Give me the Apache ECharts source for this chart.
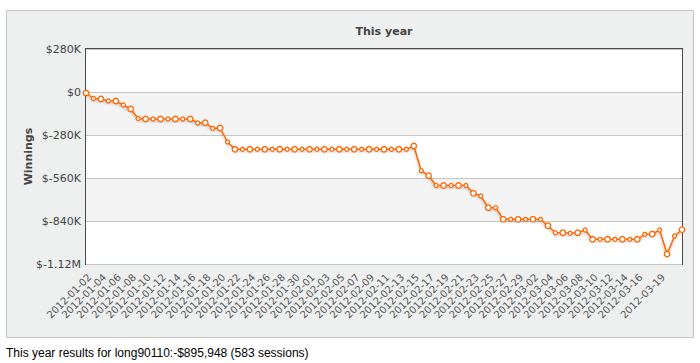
<!DOCTYPE html>
<html>
<head>
<meta charset="utf-8">
<script src="https://cdn.jsdelivr.net/npm/echarts@6/dist/echarts.min.js"></script>
<style>
  html, body { margin: 0; padding: 0; background: #ffffff; }
  #wrap { position: relative; width: 700px; height: 363px; }
  #chart { position: absolute; left: 0; top: 0; width: 700px; height: 363px; }
  #foot { position: absolute; left: 6px; top: 346px; font-family: "Liberation Sans", Arial, sans-serif; font-size: 12px; color: #000; white-space: nowrap; }
</style>
</head>
<body>
<div id="wrap">
  <div id="chart"></div>
  <div id="foot">This year results for long90110:-$895,948 (583 sessions)</div>
</div>
<script>
const chartTitle = "This year";
const yAxisName = "Winnings";
const dates = [
  "2012-01-02","2012-01-03","2012-01-04","2012-01-05","2012-01-06","2012-01-07","2012-01-08","2012-01-09","2012-01-10","2012-01-11",
  "2012-01-12","2012-01-13","2012-01-14","2012-01-15","2012-01-16","2012-01-17","2012-01-18","2012-01-19","2012-01-20","2012-01-21",
  "2012-01-22","2012-01-23","2012-01-24","2012-01-25","2012-01-26","2012-01-27","2012-01-28","2012-01-29","2012-01-30","2012-01-31",
  "2012-02-01","2012-02-02","2012-02-03","2012-02-04","2012-02-05","2012-02-06","2012-02-07","2012-02-08","2012-02-09","2012-02-10",
  "2012-02-11","2012-02-12","2012-02-13","2012-02-14","2012-02-15","2012-02-16","2012-02-17","2012-02-18","2012-02-19","2012-02-20",
  "2012-02-21","2012-02-22","2012-02-23","2012-02-24","2012-02-25","2012-02-26","2012-02-27","2012-02-28","2012-02-29","2012-03-01",
  "2012-03-02","2012-03-03","2012-03-04","2012-03-05","2012-03-06","2012-03-07","2012-03-08","2012-03-09","2012-03-10","2012-03-11",
  "2012-03-12","2012-03-13","2012-03-14","2012-03-15","2012-03-16","2012-03-17","2012-03-18","2012-03-19","2012-03-20","2012-03-21",
  "2012-03-22"
];
const winnings = [
  -6500, -42300, -45600, -58600, -58600, -84700, -110700, -172600, -175800, -175800,
  -175800, -175800, -175800, -175800, -175800, -201900, -199900, -236400, -234400, -325600,
  -373100, -373100, -373100, -373100, -373100, -373100, -373100, -373100, -373100, -373100,
  -373100, -373100, -373100, -373100, -373100, -373100, -373100, -373100, -373100, -373100,
  -373100, -373100, -373100, -373100, -351600, -512500, -545100, -608900, -608900, -608900,
  -608900, -608900, -659700, -677200, -753400, -753400, -829000, -829000, -829000, -829000,
  -829000, -829000, -870700, -916300, -916300, -920200, -916300, -898700, -959200, -959200,
  -959200, -959200, -959200, -959200, -959200, -926600, -924700, -898700, -1054900, -937700,
  -895948
];
const yMin = -1120000, yMax = 280000, yStep = 280000;
const lastLabelDate = "2012-03-19";

function fmtMoney(v) {
  if (v === 0) return "$0";
  if (Math.abs(v) >= 1000000) return "$" + (v / 1000000) + "M";
  return "$" + (v / 1000) + "K";
}

const chart = echarts.init(document.getElementById('chart'), null, { renderer: 'svg' });
chart.setOption({
  animation: false,
  backgroundColor: 'transparent',
  graphic: [
    { type: 'rect', z: -10, silent: true, shape: { x: 6.5, y: 10.5, width: 687, height: 327 },
      style: { fill: '#eeefef', stroke: '#c4c4c4', lineWidth: 1 } },
    { type: 'text', z: 10, x: 384, y: 26, style: { text: chartTitle, fill: '#444', font: 'bold 11px "DejaVu Sans", sans-serif', textAlign: 'center' } }
  ],
  grid: { left: 86, right: 18, top: 49, bottom: 99, show: true, backgroundColor: '#ffffff', borderColor: '#4a4a4a', borderWidth: 2, containLabel: false },
  xAxis: {
    type: 'category', data: dates, boundaryGap: false,
    axisLine: { show: false }, axisTick: { show: false },
    splitLine: { show: false },
    axisLabel: {
      rotate: 45, color: '#555', fontSize: 10, fontFamily: '"DejaVu Sans", sans-serif', margin: 8,
      verticalAlign: 'top',
      interval: function (i, v) { return (i % 2 === 0 && i <= 74) || v === lastLabelDate; }
    }
  },
  yAxis: {
    type: 'value', min: yMin, max: yMax, interval: yStep,
    name: yAxisName, nameLocation: 'middle', nameRotate: 90, nameGap: 52, nameMoveOverlap: false,
    nameTextStyle: { color: '#444', fontWeight: 'bold', fontSize: 11, fontFamily: '"DejaVu Sans", sans-serif' },
    axisLine: { show: false }, axisTick: { show: false },
    axisLabel: { color: '#444', fontSize: 11, fontFamily: '"DejaVu Sans", sans-serif', margin: 5, formatter: fmtMoney },
    splitLine: { show: true, lineStyle: { color: '#c4c4c4', width: 1 } },
    splitArea: { show: true, areaStyle: { color: ['#ffffff', '#f4f4f4'] } }
  },
  series: [{
    type: 'line', data: winnings,
    symbol: 'circle',
    symbolSize: function (v, p) { return p.dataIndex % 2 === 0 ? 5.5 : 4; },
    showAllSymbol: true,
    lineStyle: { color: '#ff6600', width: 1.5, shadowColor: 'rgba(0,0,0,0.25)', shadowBlur: 2, shadowOffsetY: 2 },
    itemStyle: { color: '#ffffff', borderColor: '#ff6600', borderWidth: 1.3 }
  }]
});
</script>
</body>
</html>
